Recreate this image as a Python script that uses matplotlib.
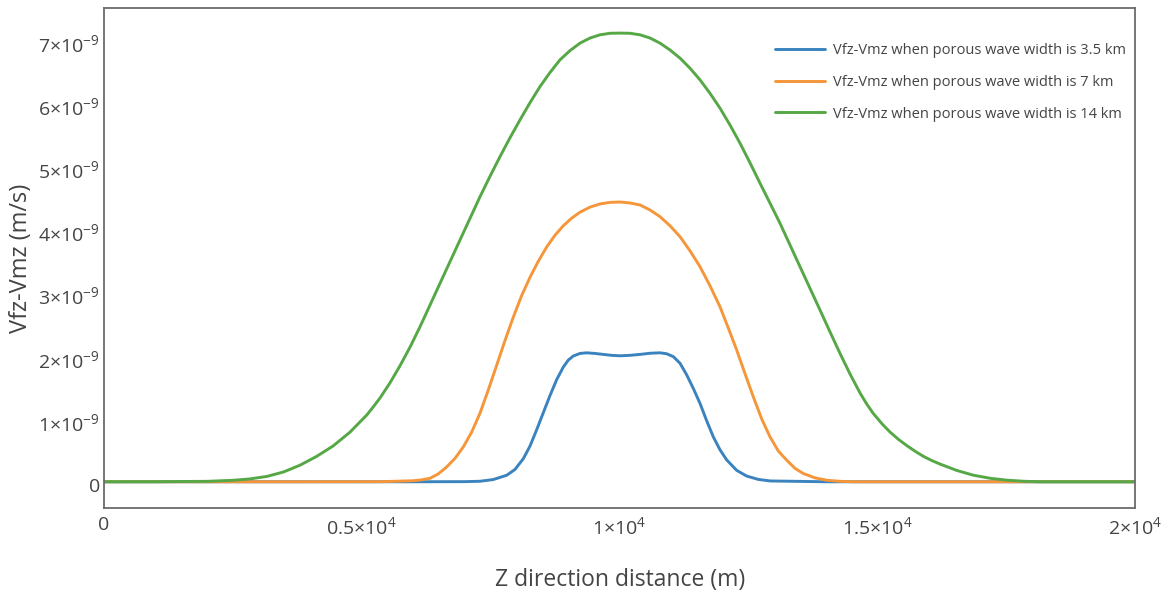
import numpy as np
import matplotlib
matplotlib.use("Agg")
import matplotlib.pyplot as plt

# ---------------- data (values in units of 1e-9 m/s) ----------------
SCALE = 1e-9

z_blue = [0, 2000, 4000, 6000, 7000, 7294, 7550, 7812, 7973, 8134, 8264, 8394,
          8523, 8652, 8781, 8910, 9007, 9104, 9234, 9364, 9525, 9686, 9848,
          10010, 10204, 10398, 10592, 10786, 10915, 11044, 11174, 11304, 11433,
          11562, 11691, 11820, 11950, 12080, 12274, 12468, 12694, 12920, 14000,
          16000, 18000, 20000]
v_blue = [0.055, 0.055, 0.055, 0.055, 0.057, 0.063, 0.09, 0.158, 0.25, 0.42,
          0.62, 0.88, 1.15, 1.42, 1.67, 1.87, 1.98, 2.045, 2.085, 2.095, 2.085,
          2.070, 2.055, 2.048, 2.055, 2.070, 2.088, 2.095, 2.08, 2.035, 1.93,
          1.745, 1.53, 1.294, 1.02, 0.765, 0.56, 0.40, 0.235, 0.145, 0.092,
          0.068, 0.055, 0.055, 0.055, 0.055]

z_orange = [0, 2000, 4000, 5354, 5994, 6160, 6324, 6486, 6648, 6809, 6970, 7132,
            7294, 7456, 7618, 7779, 7940, 8102, 8264, 8426, 8588, 8749, 8910,
            9072, 9234, 9428, 9622, 9816, 10010, 10204, 10398, 10592, 10786,
            10980, 11174, 11368, 11562, 11756, 11950, 12112, 12274, 12435, 12596,
            12758, 12920, 13082, 13244, 13405, 13566, 13793, 14020, 14278, 14536,
            16000, 18000, 20000]
v_orange = [0.055, 0.055, 0.055, 0.056, 0.071, 0.085, 0.11, 0.18, 0.290, 0.425,
            0.606, 0.84, 1.14, 1.51, 1.90, 2.29, 2.66, 3.00, 3.29, 3.545,
            3.77, 3.955, 4.105, 4.225, 4.32, 4.40, 4.45, 4.475, 4.481, 4.465,
            4.434, 4.355, 4.249, 4.105, 3.932, 3.708, 3.457, 3.155, 2.823, 2.485,
            2.138, 1.765, 1.398, 1.05, 0.765, 0.54, 0.396, 0.267, 0.185, 0.117,
            0.079, 0.062, 0.055, 0.055, 0.055, 0.055]

z_green = [0, 1000, 2000, 2502, 2832, 3162, 3482, 3802, 4122, 4442, 4772, 5102,
           5228, 5354, 5548, 5742, 5936, 6130, 6324, 6518, 6712, 6906, 7100,
           7294, 7488, 7682, 7876, 8070, 8264, 8458, 8652, 8846, 9040, 9234,
           9428, 9622, 9816, 10010, 10204, 10398, 10592, 10786, 10980, 11174,
           11368, 11562, 11756, 11950, 12144, 12338, 12532, 12726, 12920, 13114,
           13308, 13502, 13696, 13890, 14084, 14278, 14472, 14666, 14792, 14918,
           15100, 15250, 15420, 15577, 15740, 15900, 16060, 16218, 16540, 16858,
           17190, 17517, 17840, 18157, 19000, 20000]
v_green = [0.055, 0.056, 0.062, 0.078, 0.10, 0.14, 0.21, 0.317, 0.455, 0.62,
           0.84, 1.115, 1.245, 1.38, 1.62, 1.89, 2.184, 2.507, 2.850, 3.194,
           3.537, 3.880, 4.222, 4.565, 4.887, 5.199, 5.497, 5.780, 6.052, 6.307,
           6.530, 6.730, 6.876, 6.994, 7.075, 7.126, 7.150, 7.153, 7.150, 7.126,
           7.075, 6.994, 6.886, 6.757, 6.597, 6.413, 6.200, 5.965, 5.698, 5.411,
           5.100, 4.778, 4.462, 4.144, 3.800, 3.457, 3.114, 2.771, 2.425, 2.085,
           1.76, 1.46, 1.29, 1.14, 0.965, 0.84, 0.72, 0.625, 0.535, 0.455, 0.39,
           0.335, 0.235, 0.16, 0.11, 0.08, 0.063, 0.055, 0.055, 0.055]

series_labels = [
    "Vfz-Vmz when porous wave width is 3.5 km",
    "Vfz-Vmz when porous wave width is 7 km",
    "Vfz-Vmz when porous wave width is 14 km",
]
series_colors = ["#3a83be", "#f6963a", "#55a845"]

x_ticks = [0, 5000, 10000, 15000, 20000]
x_ticklabels = ["0", r"$0.5{\times}10^{4}$", r"$1{\times}10^{4}$",
                r"$1.5{\times}10^{4}$", r"$2{\times}10^{4}$"]
y_ticks = [0, 1, 2, 3, 4, 5, 6, 7]
y_ticklabels = ["0"] + [r"$%d{\times}10^{-9}$" % k for k in y_ticks[1:]]

x_title = "Z direction distance (m)"
y_title = "Vfz-Vmz (m/s)"

# ---------------- style ----------------
plt.rcParams["font.family"] = ["Open Sans", "DejaVu Sans"]
plt.rcParams["mathtext.fontset"] = "custom"
plt.rcParams["mathtext.rm"] = "Open Sans"
plt.rcParams["mathtext.it"] = "Open Sans:italic"
plt.rcParams["mathtext.bf"] = "Open Sans:bold"

W, H = 1171, 600
fig = plt.figure(figsize=(W / 100, H / 100), dpi=100)
ax = fig.add_axes([104 / W, 1 - 508 / H, (1135 - 104) / W, 500 / H])

data = [(z_blue, v_blue), (z_orange, v_orange), (z_green, v_green)]
for (zz, vv), lab, col in zip(data, series_labels, series_colors):
    ax.plot(zz, np.array(vv) * SCALE, color=col, lw=2.1, label=lab,
            solid_capstyle="round", solid_joinstyle="round")

ax.set_xlim(0, 20000)
ax.set_ylim(-0.36e-9, 7.55e-9)
ax.set_xticks(x_ticks)
ax.set_xticklabels(x_ticklabels)
ax.set_yticks(np.array(y_ticks) * SCALE)
ax.set_yticklabels(y_ticklabels)
ax.tick_params(axis="both", length=0, colors="#444444", labelsize=14)
ax.tick_params(axis="y", pad=3)
ax.tick_params(axis="x", pad=6)
for s in ax.spines.values():
    s.set_color("#6b6b6b")
    s.set_linewidth(1.3)

fig.text(620 / W, 1 - 580 / H, x_title, ha="center", va="center",
         fontsize=16.5, color="#444444")
fig.text(21 / W, 1 - 258 / H, y_title, ha="center", va="center",
         rotation=90, fontsize=17, color="#444444")

leg = ax.legend(loc="upper left", bbox_to_anchor=(775 / W, 1 - 43 / H),
                bbox_transform=fig.transFigure, frameon=False, fontsize=10.5,
                handlelength=3.4, handletextpad=0.55, labelspacing=1.15,
                borderpad=0, borderaxespad=0)
for t in leg.get_texts():
    t.set_color("#444444")

fig.savefig("out.png", dpi=100)
